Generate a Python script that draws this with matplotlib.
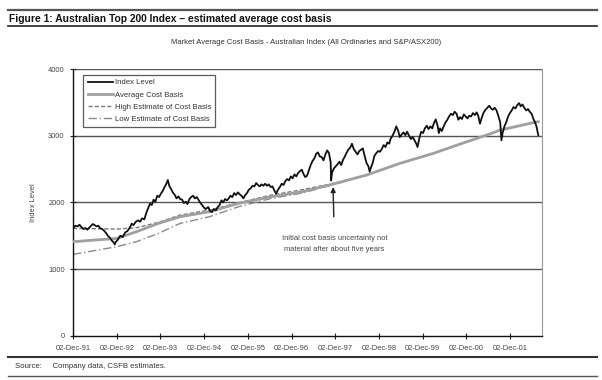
import matplotlib
matplotlib.use('agg')
import pandas as pd
import matplotlib.pyplot as plt
import matplotlib.dates as mdates

plt.rcParams['font.family'] = ['Liberation Sans', 'DejaVu Sans']

# index level (All Ordinaries / S&P ASX200)
index_pts = [
    ('1991-12-02', 1610), ('1991-12-20', 1650), ('1992-01-10', 1640), ('1992-01-25', 1665),
    ('1992-02-10', 1630), ('1992-02-28', 1600), ('1992-03-15', 1615), ('1992-03-30', 1590),
    ('1992-04-15', 1620), ('1992-05-01', 1650), ('1992-05-15', 1675), ('1992-05-30', 1660),
    ('1992-06-15', 1640), ('1992-06-30', 1650), ('1992-07-15', 1615), ('1992-08-01', 1600),
    ('1992-08-15', 1580), ('1992-09-01', 1545), ('1992-09-20', 1495), ('1992-10-05', 1470),
    ('1992-10-20', 1430), ('1992-11-05', 1400), ('1992-11-15', 1370), ('1992-11-25', 1410),
    ('1992-12-10', 1440), ('1993-01-01', 1500), ('1993-01-20', 1480), ('1993-02-10', 1550),
    ('1993-03-01', 1570), ('1993-03-20', 1620), ('1993-04-05', 1680), ('1993-04-20', 1660),
    ('1993-05-10', 1710), ('1993-05-30', 1730), ('1993-06-15', 1710), ('1993-07-01', 1760),
    ('1993-07-20', 1745), ('1993-08-05', 1840), ('1993-08-20', 1910), ('1993-09-05', 1980),
    ('1993-09-20', 1960), ('1993-10-05', 2040), ('1993-10-20', 2010), ('1993-11-05', 2100),
    ('1993-11-20', 2080), ('1993-12-05', 2130), ('1993-12-20', 2170), ('1994-01-05', 2230),
    ('1994-01-20', 2280), ('1994-02-01', 2335), ('1994-02-15', 2240), ('1994-03-01', 2200),
    ('1994-03-15', 2150), ('1994-04-01', 2110), ('1994-04-15', 2060), ('1994-05-01', 2090),
    ('1994-05-15', 2050), ('1994-06-01', 2040), ('1994-06-15', 1990), ('1994-07-01', 2010),
    ('1994-07-15', 1975), ('1994-08-01', 2050), ('1994-08-15', 2080), ('1994-09-01', 2100),
    ('1994-09-15', 2060), ('1994-10-01', 2080), ('1994-10-15', 2040), ('1994-11-01', 1990),
    ('1994-11-15', 1960), ('1994-12-01', 1920), ('1994-12-15', 1900), ('1995-01-05', 1930),
    ('1995-01-20', 1870), ('1995-02-05', 1855), ('1995-02-20', 1900), ('1995-03-10', 1880),
    ('1995-03-25', 1930), ('1995-04-10', 1960), ('1995-04-25', 2030), ('1995-05-10', 2000),
    ('1995-05-25', 2050), ('1995-06-10', 2030), ('1995-06-25', 2060), ('1995-07-10', 2100),
    ('1995-07-25', 2080), ('1995-08-10', 2140), ('1995-08-25', 2110), ('1995-09-10', 2150),
    ('1995-09-25', 2120), ('1995-10-10', 2100), ('1995-10-25', 2060), ('1995-11-10', 2110),
    ('1995-11-25', 2140), ('1995-12-10', 2190), ('1995-12-25', 2210), ('1996-01-10', 2250),
    ('1996-01-25', 2240), ('1996-02-10', 2290), ('1996-02-25', 2260), ('1996-03-10', 2240),
    ('1996-03-25', 2270), ('1996-04-10', 2250), ('1996-04-25', 2280), ('1996-05-10', 2250),
    ('1996-05-25', 2270), ('1996-06-10', 2230), ('1996-06-25', 2240), ('1996-07-10', 2180),
    ('1996-07-25', 2130), ('1996-08-10', 2190), ('1996-08-25', 2230), ('1996-09-10', 2280),
    ('1996-09-25', 2260), ('1996-10-10', 2320), ('1996-10-25', 2350), ('1996-11-10', 2330),
    ('1996-11-25', 2390), ('1996-12-10', 2360), ('1996-12-25', 2420), ('1997-01-10', 2390),
    ('1997-01-25', 2440), ('1997-02-10', 2470), ('1997-02-25', 2490), ('1997-03-10', 2430),
    ('1997-03-25', 2380), ('1997-04-10', 2400), ('1997-04-25', 2480), ('1997-05-10', 2560),
    ('1997-05-25', 2620), ('1997-06-10', 2660), ('1997-06-25', 2730), ('1997-07-10', 2750),
    ('1997-07-25', 2690), ('1997-08-10', 2680), ('1997-08-25', 2630), ('1997-09-10', 2720),
    ('1997-09-25', 2780), ('1997-10-10', 2740), ('1997-10-24', 2600), ('1997-10-28', 2330),
    ('1997-11-05', 2450), ('1997-11-20', 2510), ('1997-12-05', 2540), ('1997-12-20', 2570),
    ('1998-01-05', 2610), ('1998-01-20', 2560), ('1998-02-05', 2640), ('1998-02-20', 2690),
    ('1998-03-05', 2740), ('1998-03-20', 2790), ('1998-04-05', 2820), ('1998-04-20', 2880),
    ('1998-05-05', 2800), ('1998-05-20', 2760), ('1998-06-05', 2720), ('1998-06-20', 2770),
    ('1998-07-05', 2790), ('1998-07-20', 2810), ('1998-08-05', 2690), ('1998-08-20', 2590),
    ('1998-09-05', 2540), ('1998-09-15', 2460), ('1998-09-25', 2520), ('1998-10-10', 2590),
    ('1998-10-25', 2700), ('1998-11-10', 2740), ('1998-11-25', 2770), ('1998-12-10', 2760),
    ('1998-12-25', 2800), ('1999-01-10', 2860), ('1999-01-25', 2830), ('1999-02-10', 2900),
    ('1999-02-25', 2880), ('1999-03-10', 2960), ('1999-03-25', 3000), ('1999-04-10', 3060),
    ('1999-04-25', 3140), ('1999-05-10', 3080), ('1999-05-25', 2980), ('1999-06-10', 3020),
    ('1999-06-25', 3050), ('1999-07-10', 3010), ('1999-07-25', 3060), ('1999-08-10', 3000),
    ('1999-08-25', 2950), ('1999-09-10', 2980), ('1999-09-25', 2930), ('1999-10-10', 2880),
    ('1999-10-20', 2830), ('1999-11-05', 2970), ('1999-11-20', 3060), ('1999-12-05', 3040),
    ('1999-12-20', 3110), ('2000-01-05', 3150), ('2000-01-20', 3100), ('2000-02-05', 3140),
    ('2000-02-20', 3110), ('2000-03-05', 3190), ('2000-03-20', 3245), ('2000-04-05', 3150),
    ('2000-04-15', 3040), ('2000-04-25', 3110), ('2000-05-10', 3070), ('2000-05-25', 3140),
    ('2000-06-10', 3200), ('2000-06-25', 3240), ('2000-07-10', 3290), ('2000-07-25', 3330),
    ('2000-08-10', 3310), ('2000-08-25', 3360), ('2000-09-10', 3330), ('2000-09-25', 3240),
    ('2000-10-10', 3280), ('2000-10-25', 3250), ('2000-11-10', 3320), ('2000-11-25', 3290),
    ('2000-12-10', 3260), ('2000-12-25', 3300), ('2001-01-10', 3290), ('2001-01-25', 3340),
    ('2001-02-10', 3310), ('2001-02-25', 3350), ('2001-03-10', 3300), ('2001-03-25', 3180),
    ('2001-04-10', 3280), ('2001-04-25', 3350), ('2001-05-10', 3390), ('2001-05-25', 3420),
    ('2001-06-10', 3450), ('2001-06-25', 3410), ('2001-07-10', 3390), ('2001-07-25', 3420),
    ('2001-08-10', 3380), ('2001-08-25', 3300), ('2001-09-10', 3200), ('2001-09-20', 2930),
    ('2001-10-01', 3050), ('2001-10-15', 3140), ('2001-10-30', 3200), ('2001-11-15', 3290),
    ('2001-11-30', 3340), ('2001-12-15', 3380), ('2001-12-30', 3430), ('2002-01-15', 3410),
    ('2002-01-30', 3460), ('2002-02-15', 3490), ('2002-02-28', 3440), ('2002-03-15', 3470),
    ('2002-03-30', 3420), ('2002-04-15', 3380), ('2002-04-30', 3400), ('2002-05-15', 3360),
    ('2002-05-30', 3330), ('2002-06-15', 3250), ('2002-06-28', 3200), ('2002-07-10', 3140),
    ('2002-07-25', 3010),
]
index_dates = [d for d, _ in index_pts]
index_level = [v for _, v in index_pts]

# cost basis curves
cost_dates = [
    '1991-12-02', '1992-12-02', '1993-05-15', '1993-11-15', '1994-05-15', '1995-01-15',
    '1995-09-15', '1996-06-15', '1997-03-01', '1997-11-15', '1998-08-20', '1999-05-25',
    '2000-02-28', '2000-12-05', '2001-05-20', '2001-09-10', '2002-06-10', '2002-07-25',
]
avg_cost = [1410, 1460, 1560, 1685, 1785, 1860,
            1985, 2085, 2160, 2275, 2410, 2585,
            2735, 2910, 3010, 3085, 3195, 3210]
high_cost = [1610, 1600, 1620, 1700, 1810, 1885,
             1995, 2110, 2190, 2285, 2410, 2585,
             2735, 2910, 3010, 3085, 3195, 3210]
low_cost = [1220, 1335, 1410, 1535, 1685, 1785,
            1935, 2060, 2140, 2265, 2410, 2585,
            2735, 2910, 3010, 3085, 3195, 3210]

tick_dates = ['1991-12-02', '1992-12-02', '1993-12-02', '1994-12-02', '1995-12-02', '1996-12-02',
              '1997-12-02', '1998-12-02', '1999-12-02', '2000-12-02', '2001-12-02']

idx_x = pd.to_datetime(index_dates)
cost_x = pd.to_datetime(cost_dates)
ticks = pd.to_datetime(tick_dates)

fig = plt.figure(figsize=(6.02, 3.8), dpi=100)
ax = fig.add_axes([0.1213, 0.1166, 0.7790, 0.7016])

grid_col = '#555555'
ax.set_ylim(0, 4000)
ax.set_xlim(pd.Timestamp('1991-12-02'), pd.Timestamp('2002-08-25'))
for v in [1000, 2000, 3000, 4000]:
    ax.axhline(v, color=grid_col, lw=1.0, zorder=1)

ax.plot(cost_x, low_cost, color='#8a8a8a', lw=1.0, ls=(0, (6, 2, 1, 2)), label='Low Estimate of Cost Basis', zorder=2)
ax.plot(cost_x, high_cost, color='#7a7a7a', lw=1.0, ls=(0, (3, 1.5)), label='High Estimate of Cost Basis', zorder=2)
ax.plot(cost_x, avg_cost, color='#a0a0a0', lw=2.0, label='Average Cost Basis', zorder=3)
ax.plot(idx_x, index_level, color='#111111', lw=1.3, label='Index Level', zorder=4)

ax.set_xticks(ticks)
ax.xaxis.set_major_formatter(mdates.DateFormatter('%d-%b-%y'))
ax.set_yticks([0, 1000, 2000, 3000, 4000])
ax.tick_params(direction='inout', length=5, width=0.8, labelsize=5.4, colors='#222222', labelcolor='#444444')
ax.tick_params(axis='x', pad=4)
ax.set_ylabel('Index Level', fontsize=5.4, color='#444444', labelpad=8)

for s in ['left', 'bottom']:
    ax.spines[s].set_color('#111111')
    ax.spines[s].set_linewidth(1.0)
ax.spines['right'].set_color('#999999')
ax.spines['top'].set_visible(False)

h, l = ax.get_legend_handles_labels()
order = [3, 2, 1, 0]
leg = ax.legend([h[i] for i in order], [l[i] for i in order], loc='upper left',
                bbox_to_anchor=(0.019, 0.985), fontsize=5.6, frameon=True, fancybox=False,
                edgecolor='#333333', handlelength=3.3, handletextpad=0.15, labelspacing=0.62,
                borderpad=0.55, borderaxespad=0.2)
leg.get_frame().set_linewidth(0.9)
for t in leg.get_texts():
    t.set_color('#333333')

ax.annotate('Initial cost basis uncertainty not\nmaterial after about five years',
            xy=(pd.Timestamp('1997-11-13'), 2230), xytext=(pd.Timestamp('1997-11-25'), 1380),
            ha='center', va='center', fontsize=5.4, color='#444444', linespacing=1.75,
            arrowprops=dict(arrowstyle='-|>', color='#222222', lw=1.0, shrinkA=11, shrinkB=0,
                            mutation_scale=7))

# header / footer
fig.lines.append(plt.Line2D([0.013, 0.992], [1 - 10 / 380, 1 - 10 / 380], transform=fig.transFigure, color='#555555', lw=1.6))
fig.lines.append(plt.Line2D([0.013, 0.992], [1 - 26 / 380, 1 - 26 / 380], transform=fig.transFigure, color='#222222', lw=1.2))
fig.text(0.015, 1 - 18.5 / 380, 'Figure 1: Australian Top 200 Index \u2013 estimated average cost basis',
         fontsize=7.4, fontweight='bold', va='center', ha='left', color='#111111')
fig.text(0.508, 1 - 43 / 380, 'Market Average Cost Basis - Australian Index (All Ordinaries and S&P/ASX200)',
         fontsize=5.5, va='center', ha='center', color='#333333')
fig.lines.append(plt.Line2D([0.013, 0.992], [1 - 357 / 380, 1 - 357 / 380], transform=fig.transFigure, color='#333333', lw=1.5))
fig.lines.append(plt.Line2D([0.013, 0.992], [1 - 376 / 380, 1 - 376 / 380], transform=fig.transFigure, color='#555555', lw=1.0))
fig.text(0.025, 1 - 366.5 / 380, 'Source:     Company data, CSFB estimates.', fontsize=5.6, va='center', ha='left', color='#333333')

fig.savefig('out.png', dpi=100)
